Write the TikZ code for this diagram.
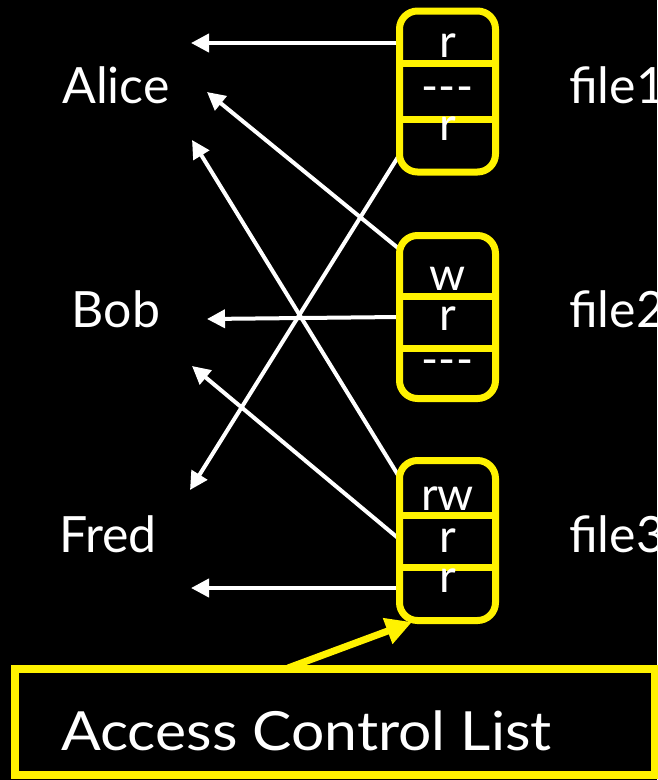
\documentclass[tikz,border=0pt]{standalone}
\usepackage{fontspec}
\setmainfont{Lato}
\newfontfamily\widefont[FakeStretch=1.09]{Lato}
\usetikzlibrary{arrows.meta}
\begin{document}
\begin{tikzpicture}[x=1pt,y=-1pt,
  label text/.style={text=white, font=\fontsize{50}{50}\selectfont, inner sep=0pt, anchor=base},
  cell/.style={text=white, font=\fontsize{46}{46}\selectfont, inner sep=0pt, anchor=base},
  filebox/.style={draw=yellow, line width=7pt, rounded corners=18pt, fill=none, inner sep=0pt},
  divider/.style={draw=yellow, line width=7pt},
  perm/.style={draw=white, line width=4pt, -{Triangle[length=18pt,width=18pt]}},
  pointer/.style={draw=yellow, line width=7pt, -{Triangle[length=26pt,width=26pt]}},
]
\fill[black] (0,0) rectangle (657,780);
\useasboundingbox (0,0) rectangle (657,780);

% subjects
\node[label text] (alice) at (116,103) {Alice};
\node[label text] (bob)   at (116,327) {Bob};
\node[label text] (fred)  at (108,552) {Fred};

% objects
\node[label text, anchor=base west] (file1) at (569,103) {file1};
\node[label text, anchor=base west] (file2) at (569,327) {file2};
\node[label text, anchor=base west] (file3) at (569,552) {file3};

% arrow end points next to the subject names
\coordinate (a1) at (191,43);
\coordinate (a2) at (207,92);
\coordinate (a3) at (192,140);
\coordinate (b1) at (207,319);
\coordinate (b2) at (192,366);
\coordinate (f1) at (190,490);
\coordinate (f2) at (191,588);

% arrow start points on the ACL boxes
\coordinate (s11) at (398,43);
\coordinate (s13) at (398,157);
\coordinate (s21) at (398,248);
\coordinate (s22) at (398,317);
\coordinate (s31) at (398,475);
\coordinate (s32) at (398,538);
\coordinate (s33) at (398,588);

% permissions
\draw[perm] (s11) -- (a1);
\draw[perm] (s13) -- (f1);
\draw[perm] (s21) -- (a2);
\draw[perm] (s22) -- (b1);
\draw[perm] (s31) -- (a3);
\draw[perm] (s32) -- (b2);
\draw[perm] (s33) -- (f2);

% ACL of file1
\node[filebox, minimum width=96pt, minimum height=161pt] (acl1) at (447.5,91.5) {};
\draw[divider] (399.5,63) -- (495.5,63);
\draw[divider] (399.5,119) -- (495.5,119);
\node[cell] (c11) at (447.5,57) {r};
\node[cell] (c12) at (447.5,102) {-{}-{}-};
\node[cell] (c13) at (447.5,140) {r};

% ACL of file2
\node[filebox, minimum width=96pt, minimum height=163pt] (acl2) at (447.5,317) {};
\draw[divider] (399.5,296) -- (495.5,296);
\draw[divider] (399.5,348) -- (495.5,348);
\node[cell] (c21) at (447.5,290) {w};
\node[cell] (c22) at (447.5,330) {r};
\node[cell] (c23) at (447.5,375) {-{}-{}-};

% ACL of file3
\node[filebox, minimum width=96pt, minimum height=160pt] (acl3) at (447.5,540.5) {};
\draw[divider] (399.5,515) -- (495.5,515);
\draw[divider] (399.5,567) -- (495.5,567);
\node[cell] (c31) at (447.5,510) {rw};
\node[cell] (c32) at (447.5,552) {r};
\node[cell] (c33) at (447.5,592) {r};

% caption box
\node[draw=yellow, line width=8pt, fill=black, minimum width=640pt, minimum height=106.5pt, inner sep=0pt] (acl) at (335,721.75) {};
\node[text=white, font=\widefont\fontsize{54}{54}\selectfont, inner sep=0pt, anchor=base west] (acllabel) at (61,750) {Access Control List};
\coordinate (ptail) at (288,668);
\coordinate (ptip) at (412,622);
\draw[pointer] (ptail) -- (ptip);
\end{tikzpicture}
\end{document}
